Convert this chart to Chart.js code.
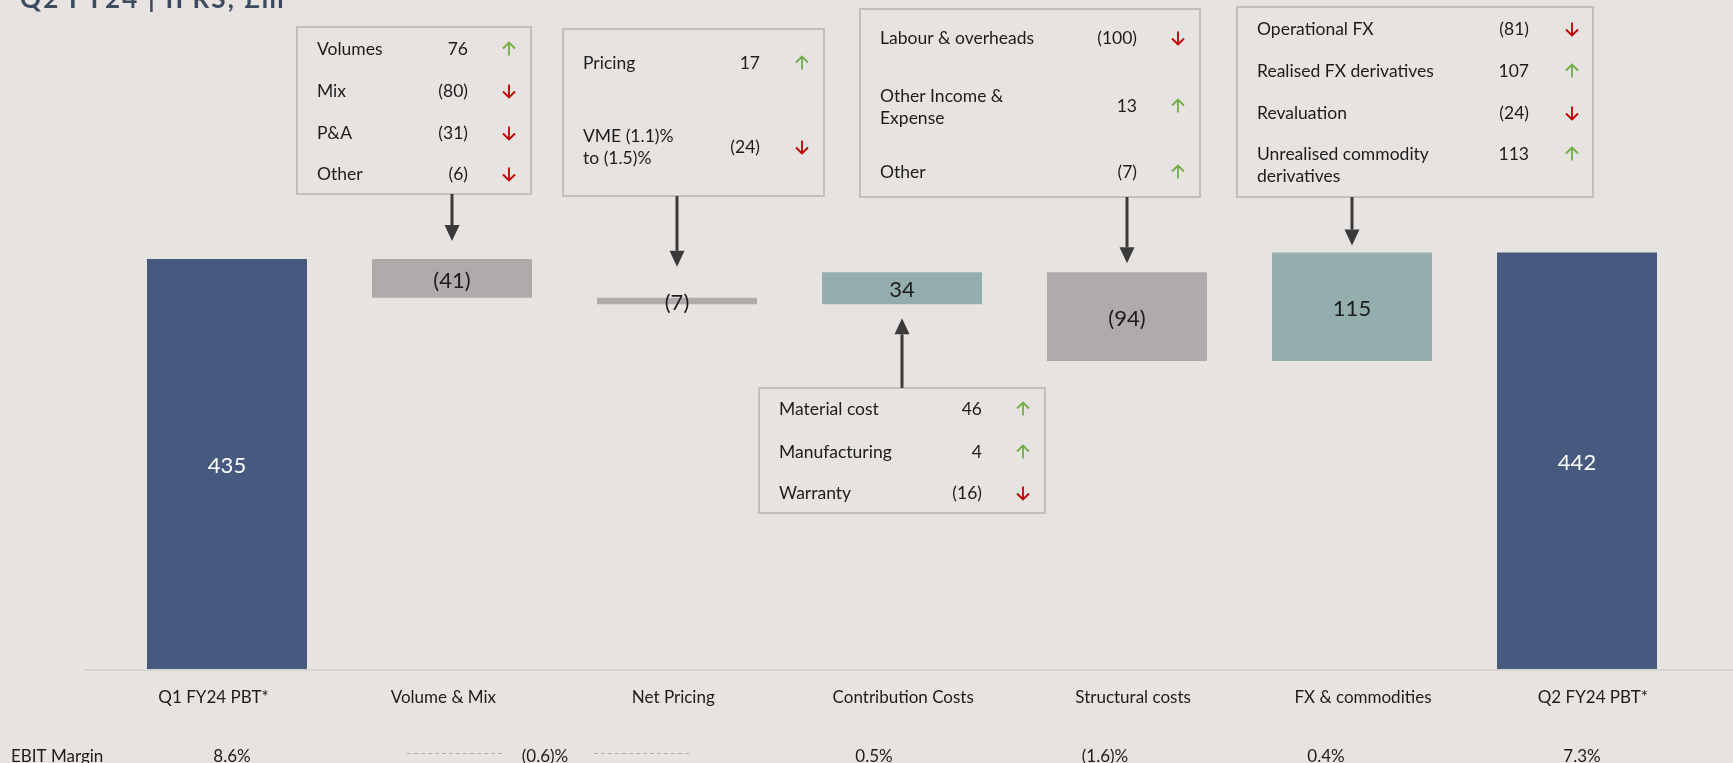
<!DOCTYPE html>
<html>
<head>
<meta charset="utf-8">
<script src="https://cdn.jsdelivr.net/npm/chart.js@4.4.0/dist/chart.umd.min.js"></script>
<style>
    html, body { margin: 0; padding: 0; background: #e7e3e0; overflow: hidden; }
    canvas { display: block; }
</style>
</head>
<body>
<canvas id="bridgeChart" width="1733" height="763"></canvas>
<script>
// PBT bridge, Q1 FY24 -> Q2 FY24 (£m)
const categories = ['Q1 FY24 PBT*', 'Volume & Mix', 'Net Pricing', 'Contribution Costs', 'Structural costs', 'FX & commodities', 'Q2 FY24 PBT*'];
const deltas = [435, -41, -7, 34, -94, 115, 442];
const barLabels = ['435', '(41)', '(7)', '34', '(94)', '115', '442'];
const ebitLabels = ['8.6%', '(0.6)%', '0.5%', '(1.6)%', '0.4%', '7.3%'];

// Driver boxes
const volumeMixLabels = [['Volumes'], ['Mix'], ['P&A'], ['Other']];
const volumeMixValues = ['76', '(80)', '(31)', '(6)'];
const volumeMixDirs = ['up', 'down', 'down', 'down'];

const pricingLabels = [['Pricing'], ['VME (1.1)%', 'to (1.5)%']];
const pricingValues = ['17', '(24)'];
const pricingDirs = ['up', 'down'];

const contributionLabels = [['Material cost'], ['Manufacturing'], ['Warranty']];
const contributionValues = ['46', '4', '(16)'];
const contributionDirs = ['up', 'up', 'down'];

const structuralLabels = [['Labour & overheads'], ['Other Income &', 'Expense'], ['Other']];
const structuralValues = ['(100)', '13', '(7)'];
const structuralDirs = ['down', 'up', 'up'];

const fxLabels = [['Operational FX'], ['Realised FX derivatives'], ['Revaluation'], ['Unrealised commodity', 'derivatives']];
const fxValues = ['(81)', '107', '(24)', '113'];
const fxDirs = ['down', 'up', 'down', 'up'];

const colors = {
    total: '#465a80',
    down: '#afabaa',
    up: '#94aeae',
    text: '#1c1c1c',
    border: '#c2c0be',
    pointer: '#3a3a3a',
    trendUp: '#70ad47',
    trendDown: '#c00000'
};
const FONT = "Lato, 'Open Sans', sans-serif";

// floating bars for the waterfall
let running = 0;
const ranges = deltas.map((d, i) => {
    if (i === 0 || i === deltas.length - 1) {
        running = d;
        return [0, d];
    }
    const start = running;
    running += d;
    return [Math.min(start, running), Math.max(start, running)];
});
const barColors = deltas.map((d, i) =>
    (i === 0 || i === deltas.length - 1) ? colors.total : (d < 0 ? colors.down : colors.up));

// box layout (pixels)
const boxes = [
    { bar: 1, labels: volumeMixLabels, values: volumeMixValues, dirs: volumeMixDirs,
      rect: [297, 27, 531, 194], rows: [49, 91, 133, 174], firstLine: [49, 91, 133, 174],
      textX: 317, valueX: 468, trendX: 509, pointer: 'down', gap: 18 },
    { bar: 2, labels: pricingLabels, values: pricingValues, dirs: pricingDirs,
      rect: [563, 29, 824, 196], rows: [63, 147], firstLine: [63, 136],
      textX: 583, valueX: 760, trendX: 802, pointer: 'down', gap: 31 },
    { bar: 3, labels: contributionLabels, values: contributionValues, dirs: contributionDirs,
      rect: [759, 388, 1045, 513], rows: [409, 452, 493], firstLine: [409, 452, 493],
      textX: 779, valueX: 982, trendX: 1023, pointer: 'up', gap: 14 },
    { bar: 4, labels: structuralLabels, values: structuralValues, dirs: structuralDirs,
      rect: [860, 9, 1200, 197], rows: [38, 106, 172], firstLine: [38, 96, 172],
      textX: 880, valueX: 1137, trendX: 1178, pointer: 'down', gap: 9 },
    { bar: 5, labels: fxLabels, values: fxValues, dirs: fxDirs,
      rect: [1237, 7, 1593, 197], rows: [29, 71, 113, 154], firstLine: [29, 71, 113, 154],
      textX: 1257, valueX: 1529, trendX: 1572, pointer: 'down', gap: 7 }
];
const ebitX = [232, 545, 874, 1105, 1326, 1582];
const labelAxisMin = -0.4306;
const labelAxisMax = 6.4202;

function drawTrend(ctx, x, y, dir) {
    const s = dir === 'up' ? -1 : 1;
    const h = 6.5, w = 6;
    ctx.save();
    ctx.strokeStyle = dir === 'up' ? colors.trendUp : colors.trendDown;
    ctx.lineWidth = 1.8;
    ctx.beginPath();
    ctx.moveTo(x, y - s * h);
    ctx.lineTo(x, y + s * h);
    ctx.moveTo(x - w, y + s * h - s * w);
    ctx.lineTo(x, y + s * h);
    ctx.lineTo(x + w, y + s * h - s * w);
    ctx.stroke();
    ctx.restore();
}

function drawPointer(ctx, x, fromY, tipY) {
    const dir = tipY > fromY ? 1 : -1;
    const headLen = 16, headHalf = 7.5;
    ctx.save();
    ctx.strokeStyle = colors.pointer;
    ctx.fillStyle = colors.pointer;
    ctx.lineWidth = 3;
    ctx.beginPath();
    ctx.moveTo(x, fromY);
    ctx.lineTo(x, tipY - dir * headLen);
    ctx.stroke();
    ctx.beginPath();
    ctx.moveTo(x - headHalf, tipY - dir * headLen);
    ctx.lineTo(x + headHalf, tipY - dir * headLen);
    ctx.lineTo(x, tipY);
    ctx.closePath();
    ctx.fill();
    ctx.restore();
}

const bridgeDecor = {
    id: 'bridgeDecor',
    beforeDatasetsDraw(chart) {
        const ctx = chart.ctx;
        const y0 = chart.scales.y.getPixelForValue(0);
        ctx.save();
        ctx.strokeStyle = '#d6d3d0';
        ctx.lineWidth = 2;
        ctx.beginPath();
        ctx.moveTo(85, y0 + 1);
        ctx.lineTo(chart.width, y0 + 1);
        ctx.stroke();
        ctx.restore();
    },
    afterDatasetsDraw(chart) {
        const ctx = chart.ctx;
        const yScale = chart.scales.y;
        const meta = chart.getDatasetMeta(0);

        // title, cut at the top edge
        ctx.save();
        ctx.font = `bold 26px ${FONT}`;
        ctx.fillStyle = '#3c4a60';
        ctx.textBaseline = 'alphabetic';
        ctx.letterSpacing = '2.2px';
        ctx.fillText('Q2 FY24 | IFRS, £m', 20, 8);
        ctx.restore();

        // value labels in the middle of each bar
        ctx.save();
        ctx.font = `22px ${FONT}`;
        ctx.textAlign = 'center';
        ctx.textBaseline = 'middle';
        meta.data.forEach((bar, i) => {
            const yMid = (yScale.getPixelForValue(ranges[i][0]) + yScale.getPixelForValue(ranges[i][1])) / 2;
            ctx.fillStyle = (i === 0 || i === deltas.length - 1) ? '#ffffff' : colors.text;
            ctx.fillText(barLabels[i], bar.x, yMid + 2);
        });
        ctx.restore();

        // driver boxes with pointers
        boxes.forEach(b => {
            const [l, t, r, btm] = b.rect;
            ctx.save();
            ctx.strokeStyle = colors.border;
            ctx.lineWidth = 2;
            ctx.strokeRect(l, t, r - l, btm - t);

            ctx.font = `17.5px ${FONT}`;
            ctx.fillStyle = colors.text;
            ctx.textBaseline = 'middle';
            b.labels.forEach((lines, i) => {
                ctx.textAlign = 'left';
                lines.forEach((line, k) => ctx.fillText(line, b.textX, b.firstLine[i] + k * 22));
                ctx.textAlign = 'right';
                ctx.fillText(b.values[i], b.valueX, b.rows[i]);
                drawTrend(ctx, b.trendX, b.rows[i], b.dirs[i]);
            });
            ctx.restore();

            const x = meta.data[b.bar].x;
            const [lo, hi] = ranges[b.bar];
            if (b.pointer === 'down') {
                drawPointer(ctx, x, btm, yScale.getPixelForValue(hi) - b.gap);
            } else {
                drawPointer(ctx, x, t, yScale.getPixelForValue(lo) + b.gap);
            }
        });

        // EBIT margin row
        ctx.save();
        ctx.font = `17px ${FONT}`;
        ctx.fillStyle = colors.text;
        ctx.textBaseline = 'middle';
        ctx.textAlign = 'left';
        ctx.fillText('EBIT Margin', 11, 757);
        ctx.textAlign = 'center';
        ebitLabels.forEach((txt, i) => ctx.fillText(txt, ebitX[i], 757));
        ctx.strokeStyle = '#b3b0ad';
        ctx.lineWidth = 1;
        ctx.setLineDash([4, 3]);
        [[407, 503], [594, 689]].forEach(([a, z]) => {
            ctx.beginPath();
            ctx.moveTo(a, 753.5);
            ctx.lineTo(z, 753.5);
            ctx.stroke();
        });
        ctx.restore();
    }
};

new Chart(document.getElementById('bridgeChart'), {
    type: 'bar',
    data: {
        labels: categories,
        datasets: [{
            data: ranges,
            backgroundColor: barColors,
            borderWidth: 0,
            categoryPercentage: 1,
            barPercentage: 160 / 225,
            xAxisID: 'x',
            yAxisID: 'y'
        }]
    },
    options: {
        responsive: false,
        animation: false,
        layout: { padding: { left: 114.5, right: 43.5, top: 0, bottom: 37.6 } },
        plugins: {
            legend: { display: false },
            tooltip: { enabled: false }
        },
        scales: {
            x: { type: 'category', display: false, offset: true },
            // label axis: the category texts sit on a slightly wider pitch than the bars
            x2: {
                type: 'linear',
                position: 'bottom',
                offset: false,
                bounds: 'data',
                beginAtZero: false,
                grace: 0,
                min: labelAxisMin,
                max: labelAxisMax,
                afterDataLimits: axis => {
                    axis.min = labelAxisMin;
                    axis.max = labelAxisMax;
                },
                afterBuildTicks: axis => {
                    axis.ticks = categories.map((c, i) => ({ value: i }));
                    axis.min = labelAxisMin;
                    axis.max = labelAxisMax;
                },
                ticks: {
                    callback: v => categories[v],
                    autoSkip: false,
                    maxRotation: 0,
                    padding: 18,
                    color: colors.text,
                    font: { family: FONT, size: 17 }
                },
                grid: { display: false, drawTicks: false, offset: false },
                border: { display: false }
            },
            y: { display: false, min: 0, max: 710 }
        }
    },
    plugins: [bridgeDecor]
});
</script>
</body>
</html>
